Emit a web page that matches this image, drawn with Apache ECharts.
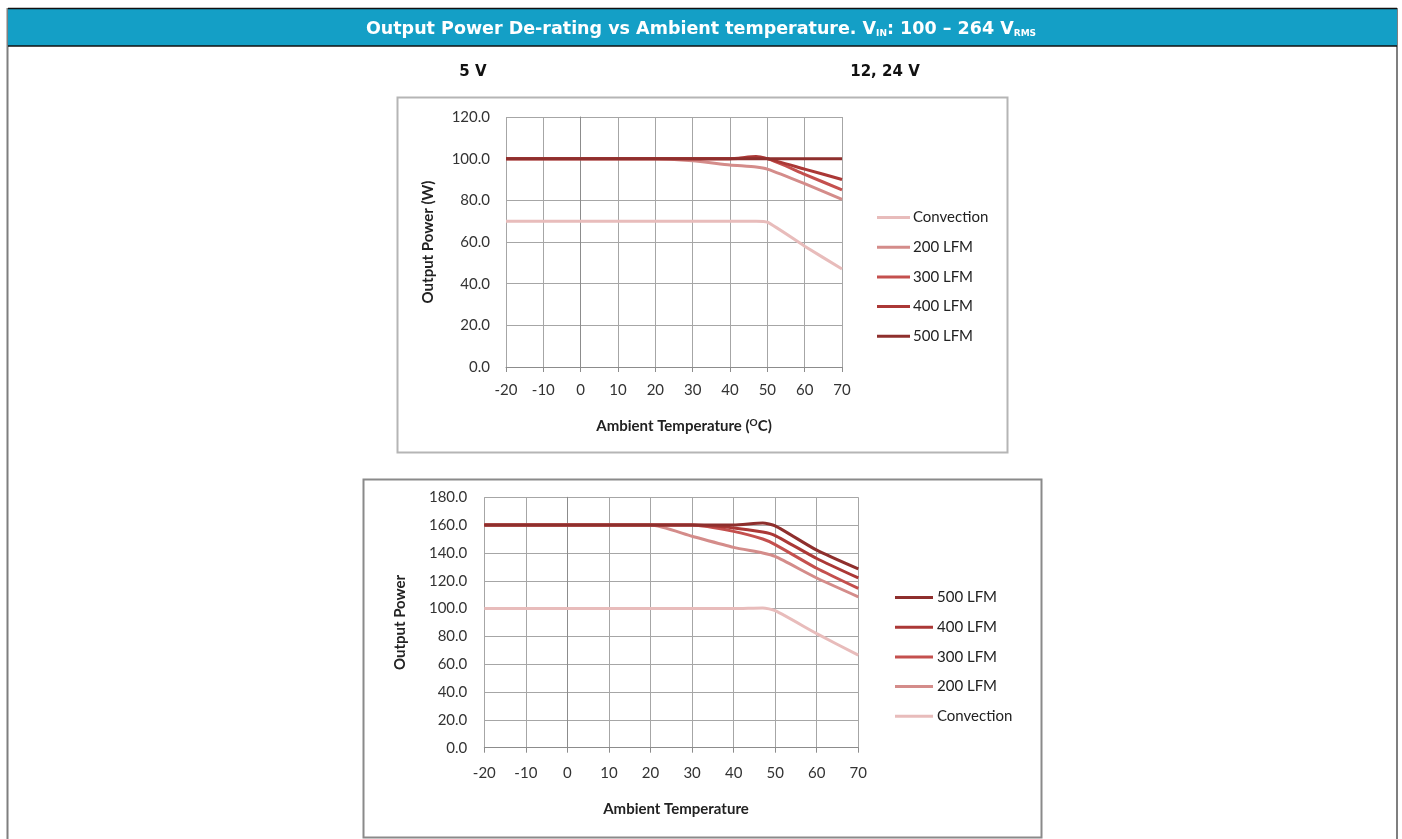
<!DOCTYPE html>
<html>
<head>
<meta charset="utf-8">
<script src="https://cdn.jsdelivr.net/npm/echarts@6/dist/echarts.min.js"></script>
<style>
html,body{margin:0;padding:0;background:#fff;}
#main{width:1402px;height:839px;}
</style>
</head>
<body>
<div id="main"></div>
<script>
// ---- data ----
var temps = [-20, -10, 0, 10, 20, 30, 40, 47, 50, 60, 70];
var xTicks = [-20, -10, 0, 10, 20, 30, 40, 50, 60, 70];

// 5 V chart
var conv5 = [70, 70, 70, 70, 70, 70, 70, 70, 69.5, 58, 47];
var lfm200_5 = [100, 100, 100, 100, 100, 99, 97, 96, 95, 88, 80.5];
var lfm300_5 = [100, 100, 100, 100, 100, 100, 100, 100.3, 100, 92.5, 85];
var lfm400_5 = [100, 100, 100, 100, 100, 100, 100, 101, 100, 95, 90];
var lfm500_5 = [100, 100, 100, 100, 100, 100, 100, 100, 100, 100, 100];

// 12, 24 V chart
var conv12 = [100, 100, 100, 100, 100, 100, 100, 100.5, 98.5, 82, 66.5];
var lfm200_12 = [160, 160, 160, 160, 160, 152, 144, 140, 137.5, 122, 108.5];
var lfm300_12 = [160, 160, 160, 160, 160, 160, 155.5, 150, 146, 129, 114.5];
var lfm400_12 = [160, 160, 160, 160, 160, 160, 158, 155, 152.5, 136, 122];
var lfm500_12 = [160, 160, 160, 160, 160, 160, 160, 161.5, 159.5, 142, 128.5];

var names5 = ['Convection', '200 LFM', '300 LFM', '400 LFM', '500 LFM'];
var names12 = ['500 LFM', '400 LFM', '300 LFM', '200 LFM', 'Convection'];

var colors = {
  'Convection': '#e8bcbb',
  '200 LFM': '#d48c8a',
  '300 LFM': '#c4504e',
  '400 LFM': '#ab3836',
  '500 LFM': '#8e2f2d'
};

function pairs(vals) {
  return temps.map(function (t, i) { return [t, vals[i]]; });
}

var FONT = 'Lato, "Open Sans", sans-serif';
var HFONT = '"DejaVu Sans", Lato, sans-serif';

function mkSeries(name, vals, idx) {
  return {
    type: 'line', name: name, xAxisIndex: idx, yAxisIndex: idx,
    data: pairs(vals), showSymbol: false, symbol: 'none',
    smooth: 0.2,
    lineStyle: { width: 3, color: colors[name] },
    itemStyle: { color: colors[name] },
    z: 3
  };
}

function mkX(gridIndex, margin) {
  return {
    type: 'value', gridIndex: gridIndex, min: -20, max: 70, interval: 10,
    axisLine: { show: true, onZero: false, lineStyle: { color: '#8c8c8c', width: 1 } },
    axisTick: { show: true, length: 5, lineStyle: { color: '#8c8c8c' } },
    axisLabel: { color: '#333', fontFamily: FONT, fontSize: 15, margin: margin },
    splitLine: { show: true, lineStyle: { color: '#a6a6a6', width: 1 } }
  };
}

function mkY(gridIndex, max, interval, margin) {
  return {
    type: 'value', gridIndex: gridIndex, min: 0, max: max, interval: interval,
    axisLine: { show: true, lineStyle: { color: '#8c8c8c', width: 1 } },
    axisTick: { show: false },
    axisLabel: { color: '#333', fontFamily: FONT, fontSize: 15, margin: margin,
      formatter: function (v) { return v.toFixed(1); } },
    splitLine: { show: true, lineStyle: { color: '#a6a6a6', width: 1 } }
  };
}

var chart = echarts.init(document.getElementById('main'), null, { renderer: 'canvas' });

var option = {
  backgroundColor: '#ffffff',
  animation: false,
  graphic: [
    // outer table borders
    { type: 'line', shape: { x1: 7.5, y1: 8, x2: 7.5, y2: 839 }, style: { stroke: '#7f7f7f', lineWidth: 2 } },
    { type: 'line', shape: { x1: 1397, y1: 8, x2: 1397, y2: 839 }, style: { stroke: '#7f7f7f', lineWidth: 2 } },
    // header
    { type: 'rect', shape: { x: 8, y: 8, width: 1389, height: 38 }, style: { fill: '#149fc6' } },
    { type: 'line', shape: { x1: 8, y1: 8.5, x2: 1397, y2: 8.5 }, style: { stroke: '#111', lineWidth: 1.5 } },
    { type: 'line', shape: { x1: 8, y1: 46, x2: 1397, y2: 46 }, style: { stroke: '#111', lineWidth: 1.5 } },
    // chart frames
    { type: 'rect', shape: { x: 397.5, y: 97.5, width: 610, height: 355 }, style: { fill: 'none', stroke: '#b5b5b5', lineWidth: 2 }, z: 0 },
    { type: 'rect', shape: { x: 363.5, y: 479.5, width: 678, height: 358 }, style: { fill: 'none', stroke: '#8a8a8a', lineWidth: 2 }, z: 0 }
  ],
  title: [
    {
      text: '{a|Output Power De-rating vs Ambient temperature. V}{s|IN}{a|: 100 – 264 V}{s|RMS}',
      left: 'center', top: 13,
      textStyle: {
        rich: {
          a: { color: '#fff', fontFamily: HFONT, fontWeight: 'bold', fontSize: 17.5, lineHeight: 22 },
          s: { color: '#fff', fontFamily: HFONT, fontWeight: 'bold', fontSize: 9, lineHeight: 22, padding: [10, 0, 0, 0] }
        }
      }
    },
    { text: '5 V', left: 468, top: 60, textAlign: 'center',
      textStyle: { color: '#111', fontFamily: HFONT, fontWeight: 'bold', fontSize: 15 } },
    { text: '12, 24 V', left: 880, top: 60, textAlign: 'center',
      textStyle: { color: '#111', fontFamily: HFONT, fontWeight: 'bold', fontSize: 15 } },
    // axis title chart 1
    { text: '{a|Ambient Temperature (}{s|O}{a|C)}', left: 679, top: 411, textAlign: 'center',
      textStyle: { rich: {
        a: { color: '#222', fontFamily: FONT, fontWeight: 'bold', fontSize: 15, lineHeight: 20 },
        s: { color: '#222', fontFamily: FONT, fontWeight: 'bold', fontSize: 10, lineHeight: 20, padding: [0, 0, 7, 0] }
      } } },
    // axis title chart 2
    { text: 'Ambient Temperature', left: 671, top: 797, textAlign: 'center',
      textStyle: { color: '#222', fontFamily: FONT, fontWeight: 'bold', fontSize: 15 } }
  ],
  grid: [
    { left: 506, top: 117, width: 336, height: 250, containLabel: false },
    { left: 484.3, top: 497.3, width: 374, height: 250.4, containLabel: false }
  ],
  xAxis: [mkX(0, 16), mkX(1, 18)],
  yAxis: [
    Object.assign(mkY(0, 120, 20, 16), {
      name: 'Output Power (W)', nameLocation: 'middle', nameGap: 70, nameRotate: 90,
      nameTextStyle: { color: '#222', fontFamily: FONT, fontWeight: 'bold', fontSize: 15 }
    }),
    Object.assign(mkY(1, 180, 20, 17), {
      name: 'Output Power', nameLocation: 'middle', nameGap: 77, nameRotate: 90,
      nameTextStyle: { color: '#222', fontFamily: FONT, fontWeight: 'bold', fontSize: 15 }
    })
  ],
  legend: [
    {
      data: names5.map(function (n) { return { name: n }; }),
      orient: 'vertical', left: 877, top: 209, itemGap: 12.7, padding: 0,
      icon: 'rect', itemWidth: 33, itemHeight: 3,
      textStyle: { color: '#222', fontFamily: FONT, fontSize: 15, lineHeight: 17, padding: [0, 0, 0, -2] },
      selectedMode: false
    },
    {
      data: names12.map(function (n) { return { name: n }; }),
      orient: 'vertical', left: 895, top: 589, itemGap: 12.7, padding: 0,
      icon: 'rect', itemWidth: 38, itemHeight: 3,
      textStyle: { color: '#222', fontFamily: FONT, fontSize: 15, lineHeight: 17, padding: [0, 0, 0, -1] },
      selectedMode: false
    }
  ],
  series: [
    mkSeries('Convection', conv5, 0),
    mkSeries('200 LFM', lfm200_5, 0),
    mkSeries('300 LFM', lfm300_5, 0),
    mkSeries('400 LFM', lfm400_5, 0),
    mkSeries('500 LFM', lfm500_5, 0),
    mkSeries('Convection', conv12, 1),
    mkSeries('200 LFM', lfm200_12, 1),
    mkSeries('300 LFM', lfm300_12, 1),
    mkSeries('400 LFM', lfm400_12, 1),
    mkSeries('500 LFM', lfm500_12, 1)
  ]
};
chart.setOption(option);
</script>
</body>
</html>
